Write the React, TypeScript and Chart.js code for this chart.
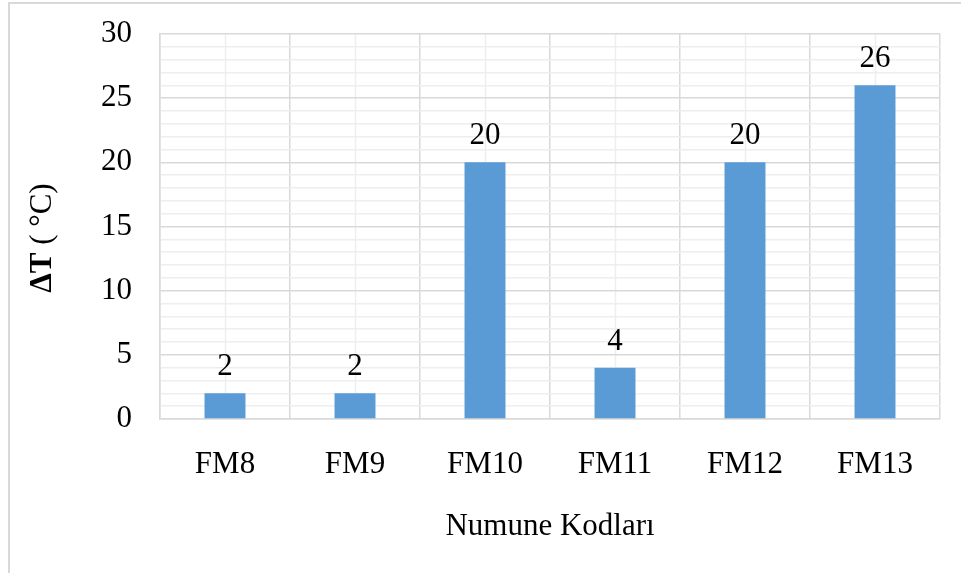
import React, { useEffect, useRef } from "react";
import { Chart, registerables } from "chart.js";

Chart.register(...registerables);

const categories = ["FM8", "FM9", "FM10", "FM11", "FM12", "FM13"];
const deltaT = [2, 2, 20, 4, 20, 26];
const yMin = 0;
const yMax = 30;
const majorStep = 5;
const xTitle = "Numune Kodları";
const yTitleBold = "ΔT";
const yTitleRest = " ( °C)";

const FONT = "'Liberation Serif', 'Times New Roman', serif";
const MAJOR = "#d9d9d9";
const MINOR = "#eeeeee";

const decorPlugin = {
  id: "decor",
  beforeDraw(chart: any) {
    const { ctx, chartArea, scales } = chart;
    ctx.save();
    ctx.strokeStyle = "#d9d9d9";
    ctx.lineWidth = 2;
    ctx.beginPath();
    ctx.moveTo(9, 573);
    ctx.lineTo(9, 3);
    ctx.lineTo(961, 3);
    ctx.stroke();
    ctx.strokeStyle = MINOR;
    ctx.lineWidth = 1.5;
    const xs = scales.x;
    for (let i = 0; i < categories.length; i++) {
      const x = Math.round(xs.getPixelForValue(i)) + 0.5;
      ctx.beginPath();
      ctx.moveTo(x, chartArea.top);
      ctx.lineTo(x, chartArea.bottom);
      ctx.stroke();
    }
    ctx.restore();
  },
  afterDatasetsDraw(chart: any) {
    const { ctx } = chart;
    const meta = chart.getDatasetMeta(0);
    ctx.save();
    ctx.fillStyle = "#000";
    ctx.font = `31px ${FONT}`;
    ctx.textAlign = "center";
    ctx.textBaseline = "alphabetic";
    meta.data.forEach((bar: any, i: number) => {
      ctx.fillText(String(deltaT[i]), bar.x, bar.y - 18);
    });
    ctx.restore();
  },
  afterDraw(chart: any) {
    const { ctx, chartArea } = chart;
    ctx.save();
    ctx.fillStyle = "#000";
    ctx.font = `31px ${FONT}`;
    ctx.textAlign = "center";
    ctx.textBaseline = "alphabetic";
    ctx.fillText(xTitle, (chartArea.left + chartArea.right) / 2, 535);
    ctx.translate(51, 238);
    ctx.rotate(-Math.PI / 2);
    ctx.font = `bold 31px ${FONT}`;
    const wB = ctx.measureText(yTitleBold).width;
    ctx.font = `31px ${FONT}`;
    const wR = ctx.measureText(yTitleRest).width;
    const start = -(wB + wR) / 2;
    ctx.textAlign = "left";
    ctx.font = `bold 31px ${FONT}`;
    ctx.fillText(yTitleBold, start, 0);
    ctx.font = `31px ${FONT}`;
    ctx.fillText(yTitleRest, start + wB, 0);
    ctx.restore();
  },
};

export default function App() {
  const ref = useRef<HTMLCanvasElement>(null);
  useEffect(() => {
    if (!ref.current) return;
    const chart = new Chart(ref.current, {
      type: "bar",
      data: {
        labels: categories,
        datasets: [
          {
            data: deltaT,
            backgroundColor: "#5b9bd5",
            borderWidth: 0,
            categoryPercentage: 1,
            barPercentage: 0.315,
          },
        ],
      },
      options: {
        responsive: false,
        animation: false,
        layout: { padding: { left: 0, top: 34, right: 21, bottom: 0 } },
        plugins: { legend: { display: false }, tooltip: { enabled: false } },
        scales: {
          x: {
            grid: { color: MAJOR, lineWidth: 1.5, drawTicks: false, offset: true },
            border: { color: MAJOR, width: 1.5 },
            ticks: {
              color: "#000",
              font: { family: FONT, size: 31 },
              padding: 27,
              maxRotation: 0,
              autoSkip: false,
            },
            afterFit: (s: any) => {
              s.height = 573 - 419;
              s.paddingLeft = 0;
              s.paddingRight = 0;
            },
          },
          y: {
            min: yMin,
            max: yMax,
            grid: {
              drawTicks: false,
              lineWidth: 1.5,
              color: (c: any) =>
                c.tick && c.tick.value % majorStep === 0 ? MAJOR : MINOR,
            },
            border: { color: MAJOR, width: 1.5 },
            ticks: {
              stepSize: 1,
              autoSkip: false,
              color: "#000",
              font: { family: FONT, size: 31 },
              padding: 28,
              callback: (v: any) => (Number(v) % majorStep === 0 ? String(v) : ""),
            },
            afterFit: (s: any) => {
              s.width = 160;
              s.paddingTop = 0;
              s.paddingBottom = 0;
            },
          },
        },
      },
      plugins: [decorPlugin],
    });
    return () => chart.destroy();
  }, []);
  return (
    <div style={{ position: "absolute", left: 0, top: 0, width: 961, height: 573, background: "#fff" }}>
      <canvas ref={ref} width={961} height={573} />
    </div>
  );
}
